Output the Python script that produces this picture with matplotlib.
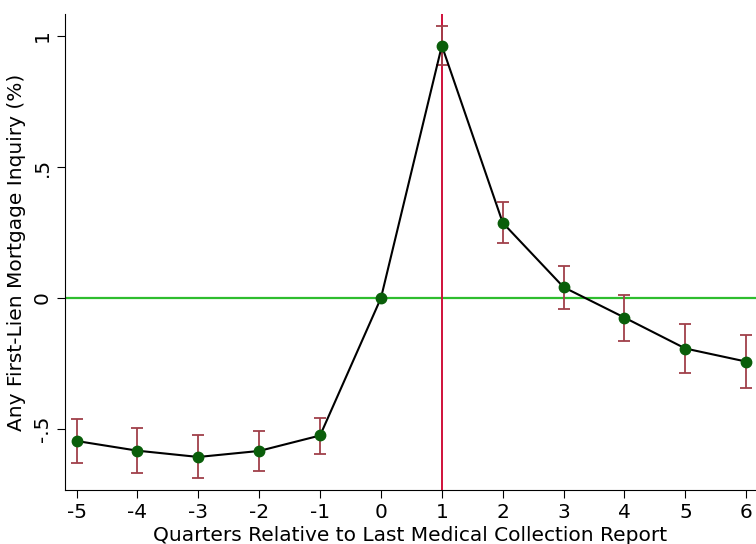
import numpy as np
import matplotlib.pyplot as plt

quarters = [-5, -4, -3, -2, -1, 0, 1, 2, 3, 4, 5, 6]
coef = [-0.546, -0.583, -0.607, -0.584, -0.525, 0.0, 0.963, 0.287, 0.041, -0.075, -0.193, -0.243]
ci_hi = [-0.462, -0.497, -0.525, -0.509, -0.458, 0.0, 1.038, 0.365, 0.121, 0.013, -0.098, -0.142]
ci_lo = [-0.630, -0.667, -0.687, -0.659, -0.597, 0.0, 0.888, 0.209, -0.041, -0.165, -0.286, -0.342]

ytick_vals = [-0.5, 0, 0.5, 1]
ytick_labels = ["-.5", "0", ".5", "1"]

x = np.array(quarters)
y = np.array(coef)
lo = np.array(ci_lo)
hi = np.array(ci_hi)
has_ci = x != 0

fig = plt.figure(figsize=(7.56, 5.44), dpi=100)
ax = fig.add_axes([0.086, 0.0993, 0.914, 0.875])

ax.axhline(0, color="#2ebd2e", lw=1.6, zorder=1)
ax.axvline(1, color="#d0103a", lw=1.4, zorder=1)

ax.errorbar(x[has_ci], y[has_ci],
            yerr=[y[has_ci] - lo[has_ci], hi[has_ci] - y[has_ci]],
            fmt="none", ecolor="#a0404a", elinewidth=1.3, capsize=4.5, capthick=1.3, zorder=2)
ax.plot(x, y, color="black", lw=1.5, zorder=3)
ax.plot(x, y, "o", color="#0a5e0a", ms=7.5, zorder=4)

ax.set_xlim(-5.19, 6.16)
ax.set_ylim(-0.733, 1.084)
ax.set_xticks(quarters)
ax.set_xticklabels([str(q) for q in quarters])
ax.set_yticks(ytick_vals)
ax.set_yticklabels(ytick_labels, rotation=90, va="center")

ax.spines["top"].set_visible(False)
ax.spines["right"].set_visible(False)
ax.tick_params(direction="out", length=6, labelsize=14.5)

ax.set_xlabel("Quarters Relative to Last Medical Collection Report", fontsize=14.5, labelpad=3)
ax.set_ylabel("Any First-Lien Mortgage Inquiry (%)", fontsize=14.5, labelpad=5)

fig.savefig("out.png", dpi=100)
